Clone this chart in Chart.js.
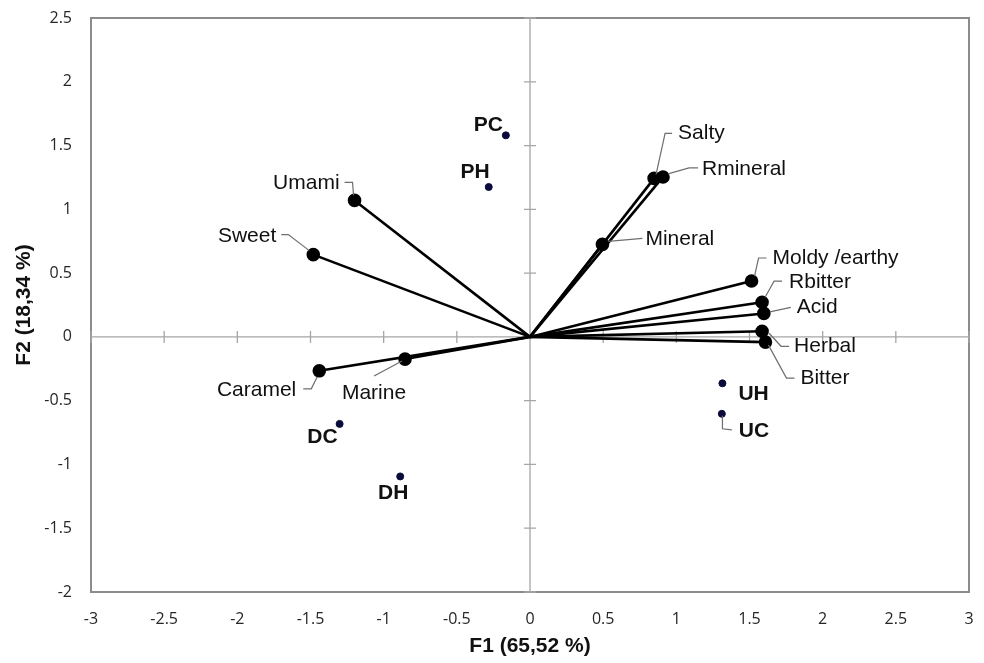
<!DOCTYPE html>
<html>
<head>
<meta charset="utf-8">
<script src="https://cdn.jsdelivr.net/npm/chart.js@4"></script>
<style>
  html, body { margin: 0; padding: 0; background: #fff; }
  #chart { display: block; }
</style>
</head>
<body>
<canvas id="chart" width="984" height="663"></canvas>
<script>
// loadings (variables), drawn as vectors from the origin
const loadingNames = ["Umami", "Sweet", "Caramel", "Marine", "Salty", "Rmineral", "Mineral",
  "Moldy /earthy", "Rbitter", "Acid", "Herbal", "Bitter"];
const loadingF1 = [-1.199, -1.481, -1.44, -0.854, 0.848, 0.909, 0.495, 1.514, 1.586, 1.598, 1.586, 1.609];
const loadingF2 = [1.07, 0.645, -0.266, -0.174, 1.243, 1.254, 0.725, 0.438, 0.272, 0.184, 0.044, -0.041];

// observations (samples)
const obsNames = ["PC", "PH", "DC", "DH", "UH", "UC"];
const obsF1 = [-0.165, -0.282, -1.301, -0.887, 1.315, 1.311];
const obsF2 = [1.58, 1.175, -0.682, -1.094, -0.364, -0.603];

// axis ticks
const xTicks = [-3, -2.5, -2, -1.5, -1, -0.5, 0, 0.5, 1, 1.5, 2, 2.5, 3];
const yTicks = [-2, -1.5, -1, -0.5, 0, 0.5, 1, 1.5, 2, 2.5];

// label placement in px, relative to the marker: text offset, align, leader polyline
const loadingLabelPos = [
  { dx: -15, dy: -17, align: "right", leader: [[-10, -18], [-2, -18], [-1, -5]] },
  { dx: -37, dy: -18, align: "right", leader: [[-32, -20], [-25, -20], [-4, -4]] },
  { dx: -23, dy: 19, align: "right", leader: [[-16, 18], [-8, 18], [-2, 6]] },
  { dx: -31, dy: 34, align: "center", leader: [[-31, 17], [-3, 2]] },
  { dx: 24, dy: -45, align: "left", leader: [[18, -45], [11, -45], [2, -4]] },
  { dx: 39, dy: -8, align: "left", leader: [[35, -9], [26, -9], [5, -3]] },
  { dx: 43, dy: -5, align: "left", leader: [[40, -6], [6, -3]] },
  { dx: 21, dy: -23, align: "left", leader: [[15, -23], [7, -23], [3, -5]] },
  { dx: 27, dy: -20, align: "left", leader: [[20, -21], [12, -21], [3, -5]] },
  { dx: 33, dy: -6, align: "left", leader: [[27, -6], [6, -1.5]] },
  { dx: 32, dy: 15, align: "left", leader: [[27, 15], [19, 15], [7, 2]] },
  { dx: 35, dy: 36, align: "left", leader: [[29, 36], [21, 36], [3, 3]] },
];
const obsLabelPos = [
  { dx: -3, dy: -10, align: "right", leader: [] },
  { dx: 1, dy: -15, align: "right", leader: [] },
  { dx: -2, dy: 13, align: "right", leader: [] },
  { dx: -7, dy: 17, align: "center", leader: [] },
  { dx: 16, dy: 11, align: "left", leader: [] },
  { dx: 17, dy: 17, align: "left", leader: [[0.6, 2], [0.6, 15], [10, 16]] },
];

const vectorSets = loadingNames.map((name, i) => ({
  label: name,
  data: [{ x: 0, y: 0 }, { x: loadingF1[i], y: loadingF2[i] }],
  showLine: true,
  borderColor: "#000",
  borderWidth: 2.6,
  pointRadius: [0, 5.5],
  pointBackgroundColor: "#000",
  pointBorderColor: "#000",
}));

const obsSet = {
  label: "obs",
  data: obsNames.map((n, i) => ({ x: obsF1[i], y: obsF2[i] })),
  pointRadius: 3.5,
  pointBackgroundColor: "#0b0b3b",
  pointBorderColor: "#0b0b3b",
};

const frameAndAxes = {
  id: "frameAndAxes",
  beforeDatasetsDraw(chart) {
    const { ctx, chartArea: a, scales: { x, y } } = chart;
    ctx.save();
    ctx.strokeStyle = "#8c8c8c";
    ctx.lineWidth = 2;
    ctx.strokeRect(a.left, a.top, a.right - a.left, a.bottom - a.top);

    const x0 = x.getPixelForValue(0);
    const y0 = y.getPixelForValue(0);
    ctx.strokeStyle = "#a6a6a6";
    ctx.lineWidth = 1.3;
    ctx.beginPath();
    ctx.moveTo(a.left, y0);
    ctx.lineTo(a.right, y0);
    ctx.moveTo(x0, a.top);
    ctx.lineTo(x0, a.bottom);
    xTicks.forEach((v) => {
      const px = x.getPixelForValue(v);
      ctx.moveTo(px, y0 - 6);
      ctx.lineTo(px, y0 + 6);
    });
    yTicks.forEach((v) => {
      const py = y.getPixelForValue(v);
      ctx.moveTo(x0 - 6, py);
      ctx.lineTo(x0 + 6, py);
    });
    ctx.stroke();
    ctx.restore();
  },
};

function drawLabel(ctx, px, py, text, pos) {
  if (pos.leader.length) {
    ctx.beginPath();
    pos.leader.forEach(([lx, ly], k) => {
      if (k === 0) ctx.moveTo(px + lx, py + ly);
      else ctx.lineTo(px + lx, py + ly);
    });
    ctx.stroke();
  }
  ctx.textAlign = pos.align;
  ctx.fillText(text, px + pos.dx, py + pos.dy);
}

const pointLabels = {
  id: "pointLabels",
  afterDatasetsDraw(chart) {
    const { ctx, scales: { x, y } } = chart;
    ctx.save();
    ctx.strokeStyle = "#6e6e6e";
    ctx.lineWidth = 1.2;
    ctx.fillStyle = "#111";
    ctx.textBaseline = "middle";

    ctx.font = "21px 'Liberation Sans', Arial, sans-serif";
    loadingNames.forEach((name, i) => {
      drawLabel(ctx, x.getPixelForValue(loadingF1[i]), y.getPixelForValue(loadingF2[i]), name, loadingLabelPos[i]);
    });

    ctx.font = "bold 21px 'Liberation Sans', Arial, sans-serif";
    obsNames.forEach((name, i) => {
      drawLabel(ctx, x.getPixelForValue(obsF1[i]), y.getPixelForValue(obsF2[i]), name, obsLabelPos[i]);
    });
    ctx.restore();
  },
};

const tickFont = { family: "'Open Sans', sans-serif", size: 16 };
const titleFont = { family: "'Liberation Sans', Arial, sans-serif", size: 21, weight: "bold" };
const plainNumber = (v) => String(v);

new Chart(document.getElementById("chart"), {
  type: "scatter",
  data: { datasets: [...vectorSets, obsSet] },
  options: {
    responsive: false,
    animation: false,
    devicePixelRatio: 1,
    layout: { padding: { top: 18, right: 15, bottom: 0, left: 0 } },
    plugins: { legend: { display: false }, tooltip: { enabled: false } },
    scales: {
      x: {
        type: "linear",
        min: -3,
        max: 3,
        afterBuildTicks: (scale) => { scale.ticks = xTicks.map((v) => ({ value: v })); },
        afterFit: (scale) => {
          scale.height = 71;
          scale.paddingLeft = 0;
          scale.paddingRight = 0;
        },
        grid: { display: false, drawTicks: false },
        border: { display: false },
        ticks: { font: tickFont, color: "#262626", padding: 18, callback: plainNumber },
        title: { display: true, text: "F1 (65,52 %)", font: titleFont, color: "#111", padding: { top: 0, bottom: 4 } },
      },
      y: {
        type: "linear",
        min: -2,
        max: 2.5,
        afterBuildTicks: (scale) => { scale.ticks = yTicks.map((v) => ({ value: v })); },
        afterFit: (scale) => {
          scale.width = 91;
          scale.paddingTop = 0;
          scale.paddingBottom = 0;
        },
        grid: { display: false, drawTicks: false },
        border: { display: false },
        ticks: { font: tickFont, color: "#262626", padding: 19, callback: plainNumber },
        title: { display: true, text: "F2 (18,34 %)", font: titleFont, color: "#111", padding: { top: 12, bottom: 0 } },
      },
    },
  },
  plugins: [frameAndAxes, pointLabels],
});
</script>
</body>
</html>
